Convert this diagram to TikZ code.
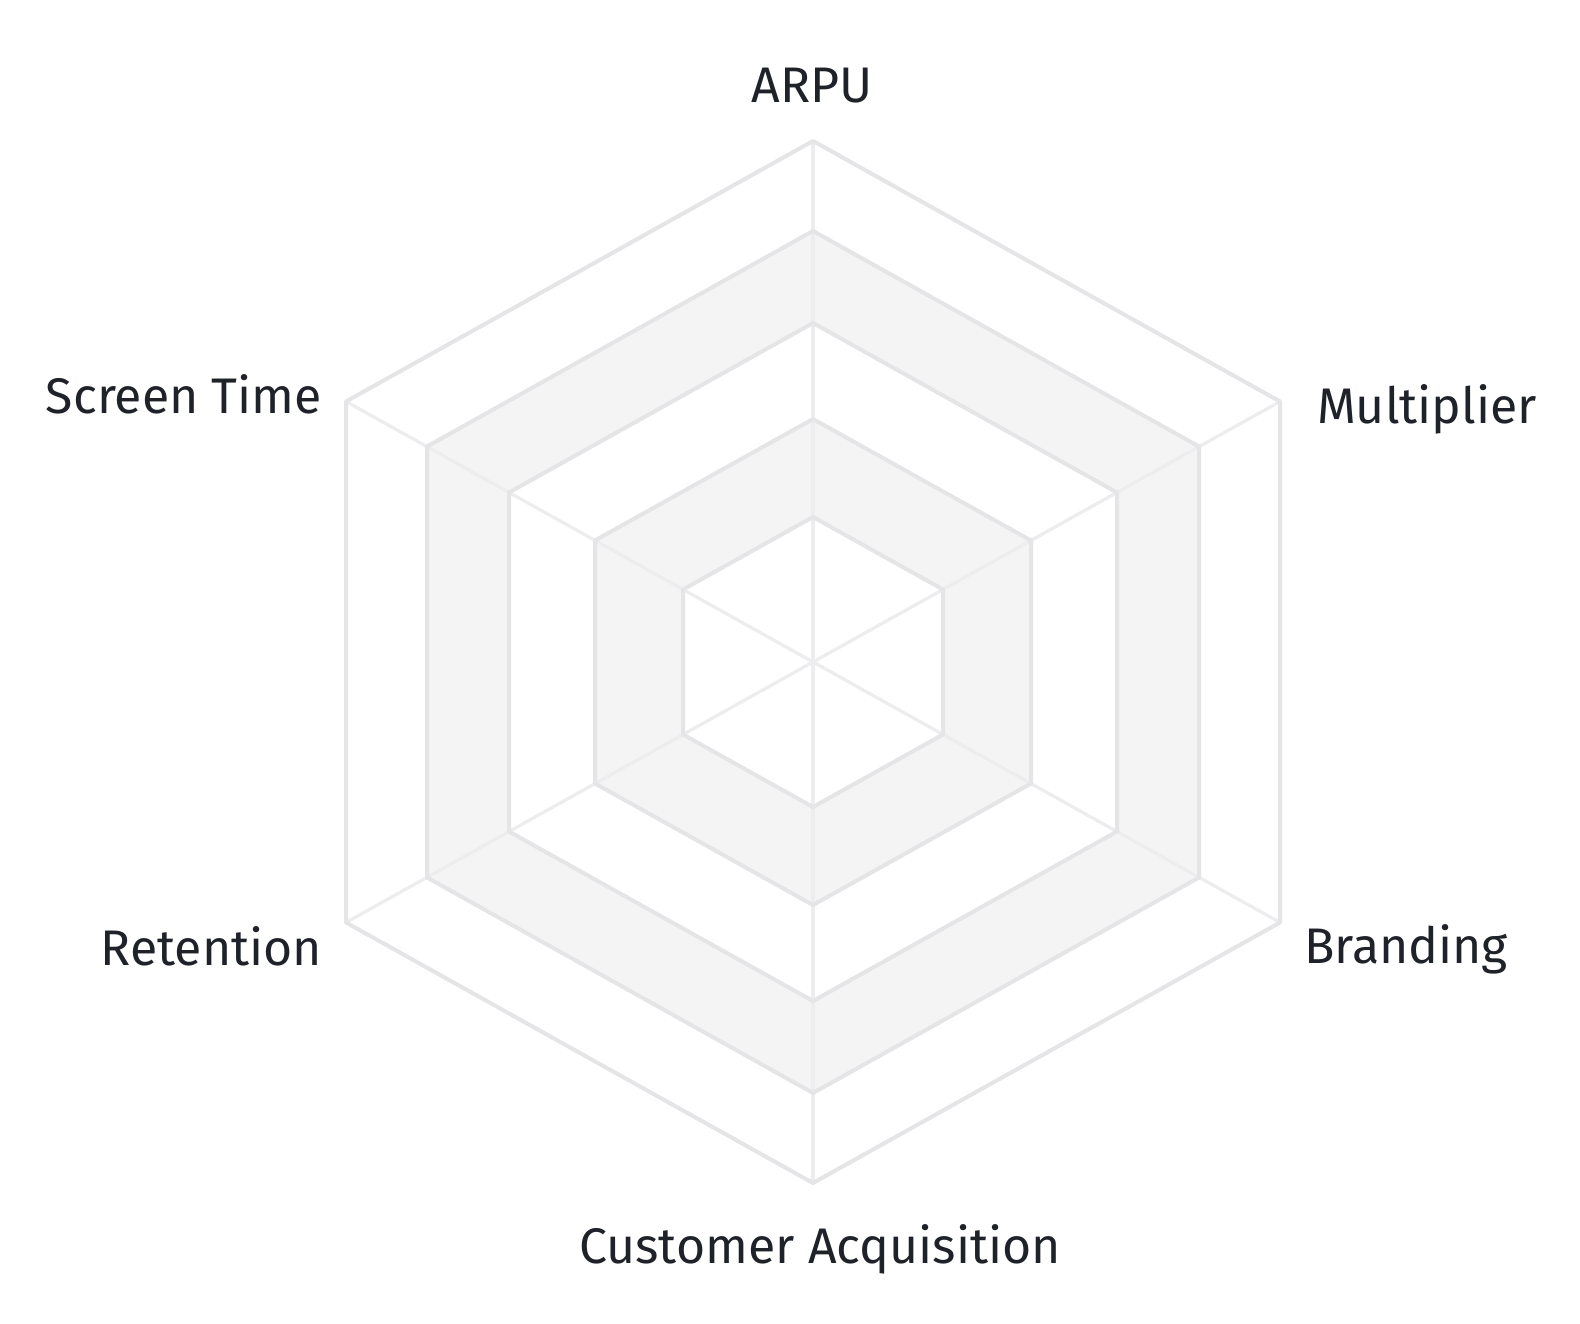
\documentclass[tikz,border=0pt]{standalone}
\usepackage{fontspec}
\setmainfont{Fira Sans}
\definecolor{txt}{HTML}{1F2329}
\definecolor{gridline}{HTML}{E5E5E7}
\definecolor{spokeline}{HTML}{EDEDEF}
\definecolor{band}{HTML}{F4F4F4}
\newcommand\hexpath[2]{(813,{662-#2}) -- ({813+#1},{662-#2/2}) -- ({813+#1},{662+#2/2}) -- (813,{662+#2}) -- ({813-#1},{662+#2/2}) -- ({813-#1},{662-#2/2}) -- cycle}
\begin{document}
\begin{tikzpicture}[x=1pt,y=-1pt,
  lbl/.style={inner sep=0pt,outer sep=0pt,text=txt,font=\fontsize{50}{60}\selectfont},
  ring/.style={draw=gridline,line width=4pt,line join=round},
  spoke/.style={draw=spokeline,line width=3.2pt}]
\useasboundingbox (0,0) rectangle (1580,1324);
\fill[white] (0,0) rectangle (1580,1324);
% bands
\fill[band] \hexpath{386}{431};
\fill[white] \hexpath{304}{339};
\fill[band] \hexpath{218}{243};
\fill[white] \hexpath{130}{145};
% axis end points
\coordinate (c) at (813,662);
\coordinate (a1) at (813,141);
\coordinate (a2) at (1280,401.5);
\coordinate (a3) at (1280,922.5);
\coordinate (a4) at (813,1183);
\coordinate (a5) at (346,922.5);
\coordinate (a6) at (346,401.5);
\foreach \i in {1,...,6} \draw[spoke] (c) -- (a\i);
% rings
\draw[ring] \hexpath{130}{145};
\draw[ring] \hexpath{218}{243};
\draw[ring] \hexpath{304}{339};
\draw[ring] \hexpath{386}{431};
\draw[ring] \hexpath{467}{521};
% labels
\node[lbl,anchor=base] (l1) at (812,103) {ARPU};
\node[lbl,anchor=base west] (l2) at (1317,423) {Multiplier};
\node[lbl,anchor=base west] (l3) at (1304,963) {Branding};
\node[lbl,anchor=base] (l4) at (820,1263) {Customer Acquisition};
\node[lbl,anchor=base east] (l5) at (322,965) {Retention};
\node[lbl,anchor=base east] (l6) at (322,413) {Screen Time};
\end{tikzpicture}
\end{document}
